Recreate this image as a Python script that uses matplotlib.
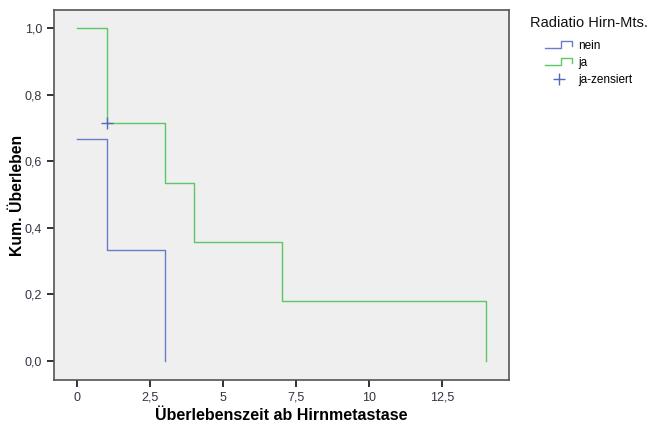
import matplotlib
matplotlib.use("Agg")
import matplotlib.pyplot as plt
from matplotlib.lines import Line2D
from matplotlib.legend_handler import HandlerBase
from matplotlib.ticker import FuncFormatter

plt.rcParams['font.family'] = ['Liberation Sans', 'DejaVu Sans']

# Kaplan-Meier step data
nein_t = [0, 1, 3]
nein_s = [0.667, 0.333, 0.0]
ja_t = [0, 1, 3, 4, 7, 14]
ja_s = [1.0, 0.714, 0.536, 0.357, 0.179, 0.0]
cens_t = [1]
cens_s = [0.714]

xticks = [0, 2.5, 5, 7.5, 10, 12.5]
yticks = [0.0, 0.2, 0.4, 0.6, 0.8, 1.0]

blue = '#6a7cc8'
green = '#5cc864'
cens_col = '#5468c0'

fig = plt.figure(figsize=(6.5, 4.25), dpi=100)
ax = fig.add_axes([0.083, 0.106, 0.700, 0.870])
ax.set_facecolor('#efefef')

def km_xy(t, s):
    xs, ys = [], []
    for i in range(len(t)):
        if i > 0:
            xs.append(t[i]); ys.append(s[i - 1])
        xs.append(t[i]); ys.append(s[i])
    return xs, ys

x1, y1 = km_xy(nein_t, nein_s)
x2, y2 = km_xy(ja_t, ja_s)
ax.plot(x1, y1, color=blue, lw=1.0)
ax.plot(x2, y2, color=green, lw=1.0)
ax.plot(cens_t, cens_s, linestyle='none', marker='+', color=cens_col, ms=8, mew=1.0)

ax.set_xlim(-0.8, 14.78)
ax.set_ylim(-0.057, 1.054)
ax.set_xticks(xticks)
ax.set_yticks(yticks)
fmt = lambda v, p: (('%g' % v).replace('.', ','))
ax.xaxis.set_major_formatter(FuncFormatter(fmt))
ax.yaxis.set_major_formatter(FuncFormatter(lambda v, p: ('%.1f' % v).replace('.', ',')))
ax.tick_params(direction='out', length=5, width=1.3, color='#222222', labelsize=9,
               labelcolor='#333344')
for sp in ax.spines.values():
    sp.set_color('#555555')
    sp.set_linewidth(1.2)

ax.set_xlabel('Überlebenszeit ab Hirnmetastase', fontsize=11.5, fontweight='bold', labelpad=3)
ax.set_ylabel('Kum. Überleben', fontsize=11.3, fontweight='bold')
ax.yaxis.set_label_coords(-0.064, 0.5)


class StepHandler(HandlerBase):
    def __init__(self, color):
        super().__init__()
        self.color = color

    def create_artists(self, legend, orig_handle, xdescent, ydescent, width, height, fontsize, trans):
        y0 = -ydescent + 0.1 * height
        y1_ = -ydescent + 0.95 * height
        xm = -xdescent + 0.6 * width
        line = Line2D([-xdescent, xm, xm, -xdescent + width, -xdescent + width],
                      [y0, y0, y1_, y1_, y1_ - 0.55 * height],
                      color=self.color, lw=1.0, transform=trans)
        return [line]


h_nein = Line2D([], [], color=blue)
h_ja = Line2D([], [], color=green)
h_cens = Line2D([], [], linestyle='none', marker='+', color=cens_col, ms=9, mew=1.0)

fig.text(530 / 650, 1 - 23 / 425, 'Radiatio Hirn-Mts.', fontsize=10.5, va='center', ha='left',
         color='#111111')

leg = fig.legend([h_nein, h_ja, h_cens], ['nein', 'ja', 'ja-zensiert'],
                 handler_map={h_nein: StepHandler(blue), h_ja: StepHandler(green)},
                 loc='upper left', bbox_to_anchor=(545 / 650, 1 - 40 / 425),
                 frameon=False, fontsize=8.5, handlelength=2.3, borderpad=0,
                 handletextpad=0.5, labelspacing=0.42, borderaxespad=0)

fig.savefig('out.png', dpi=100)
